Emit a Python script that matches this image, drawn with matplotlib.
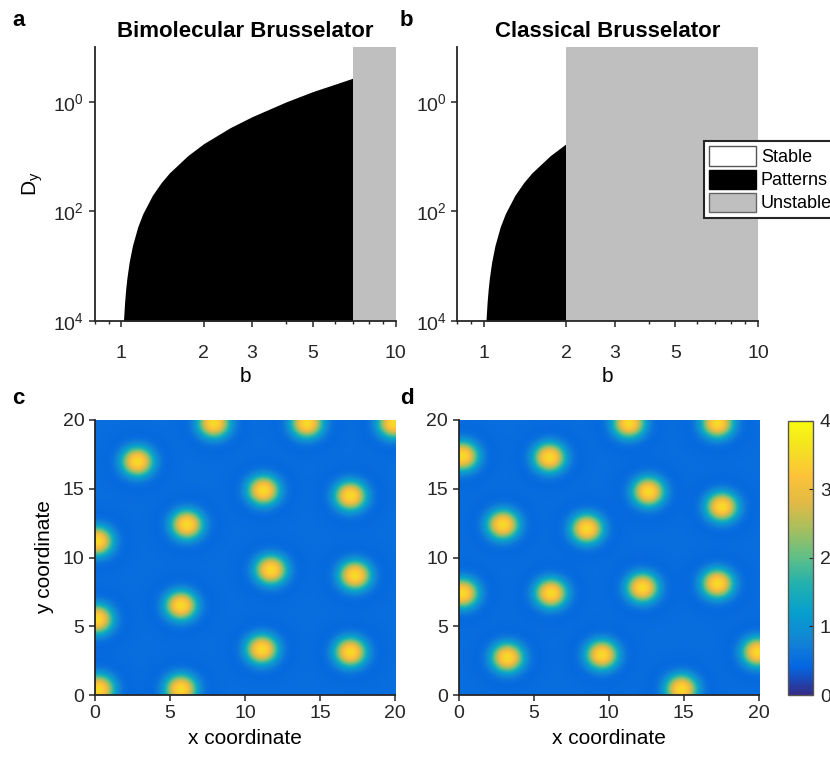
import numpy as np
import matplotlib
matplotlib.use("Agg")
import matplotlib.pyplot as plt
from matplotlib.colors import LinearSegmentedColormap
from matplotlib.patches import Patch
from matplotlib.ticker import LogLocator, NullLocator, FixedLocator, NullFormatter

plt.rcParams['font.family'] = ['Liberation Sans', 'DejaVu Sans']
plt.rcParams['mathtext.fontset'] = 'custom'
plt.rcParams['mathtext.rm'] = 'Liberation Sans'

# Turing boundary (b, Dy)
b_curve = [1.02, 1.03, 1.04, 1.05, 1.07, 1.1, 1.15, 1.2, 1.3, 1.4, 1.5, 1.75,
           2.0, 2.5, 3.0, 4.0, 5.0, 6.0, 7.0]
dy_curve = [10000, 4500, 2550, 1640, 845, 420, 191, 110, 51, 29.8, 19.8, 9.6,
            5.8, 2.96, 1.87, 1.0, 0.65, 0.48, 0.37]
hopf_bimolecular = 7.0
hopf_classical = 2.0

# spot centres (x, y)
spots_c_x = [7.9, 14.1, 19.9, 2.8, 11.2, 17.0, 6.1, 0.1, 11.7, 17.3, 5.7, 0.1, 11.1, 17.0, 0.2, 5.7]
spots_c_y = [19.8, 19.8, 19.8, 17.0, 14.9, 14.5, 12.4, 11.2, 9.1, 8.7, 6.5, 5.5, 3.3, 3.1, 0.4, 0.4]
spots_d_x = [11.3, 17.2, 0.2, 6.0, 12.6, 17.5, 2.9, 8.5, 0.2, 6.1, 12.2, 17.2, 3.2, 9.5, 14.8, 19.9]
spots_d_y = [19.8, 19.8, 17.4, 17.3, 14.8, 13.7, 12.4, 12.1, 7.4, 7.4, 7.8, 8.1, 2.7, 2.9, 0.4, 3.1]
background_level = 0.52
spot_peak = 3.5

parula_colors = [(0.2081, 0.1663, 0.5292), (0.0157, 0.3960, 0.8860), (0.0700, 0.5220, 0.8330),
                 (0.0250, 0.6230, 0.8080), (0.1250, 0.6900, 0.6920), (0.3690, 0.7490, 0.5300),
                 (0.6420, 0.7480, 0.3770), (0.8820, 0.7300, 0.2710), (0.9930, 0.7620, 0.2210),
                 (0.9570, 0.8860, 0.1310), (0.9763, 0.9831, 0.0538)]
parula = LinearSegmentedColormap.from_list('parula', parula_colors)

W, H = 830, 761
fig = plt.figure(figsize=(W / 100, H / 100), dpi=100)


def px_axes(left, top, right, bottom):
    return fig.add_axes([left / W, 1 - bottom / H, (right - left) / W, (bottom - top) / H])


def style(ax):
    for s in ['top', 'right']:
        ax.spines[s].set_visible(False)
    for s in ['left', 'bottom']:
        ax.spines[s].set_linewidth(1.3)
        ax.spines[s].set_color('#262626')
    ax.tick_params(direction='out', length=4, width=1.1, colors='#262626', labelsize=14,
                   labelcolor='#262626')
    ax.tick_params(which='minor', direction='out', length=2.5, width=1.0, colors='#262626')


gray = '#bfbfbf'


def phase_panel(ax, hopf, title):
    b = np.array(b_curve)
    dy = np.array(dy_curve)
    keep = b <= hopf
    ax.fill_between(b[keep], dy[keep], 1e4, color='black', linewidth=0)
    ax.axvspan(hopf, 10, color=gray, linewidth=0)
    ax.set_xscale('log')
    ax.set_yscale('log')
    ax.set_xlim(0.8, 10)
    ax.set_ylim(1e4, 1e-1)
    ax.xaxis.set_major_locator(FixedLocator([1, 2, 3, 5, 10]))
    ax.set_xticklabels(['1', '2', '3', '5', '10'])
    ax.xaxis.set_minor_locator(LogLocator(base=10, subs=np.arange(2, 10) / 10 * 10, numticks=20))
    ax.xaxis.set_minor_formatter(NullFormatter())
    ax.set_yticks([1, 100, 1e4])
    ax.set_yticklabels([r'$\mathregular{10^0}$', r'$\mathregular{10^2}$', r'$\mathregular{10^4}$'])
    ax.yaxis.set_minor_locator(NullLocator())
    style(ax)
    ax.tick_params(axis='x', pad=13)
    ax.set_xlabel('b', fontsize=15, labelpad=4)
    ax.set_title(title, fontsize=16, fontweight='bold', pad=7)


ax_a = px_axes(94.5, 47, 395.5, 321)
phase_panel(ax_a, hopf_bimolecular, 'Bimolecular Brusselator')
ax_a.set_ylabel(r'$\mathregular{D_y}$', fontsize=15, labelpad=6)

ax_b = px_axes(457, 47, 758, 321)
phase_panel(ax_b, hopf_classical, 'Classical Brusselator')

legend_handles = [Patch(facecolor='white', edgecolor='#555555', label='Stable'),
                  Patch(facecolor='black', edgecolor='black', label='Patterns'),
                  Patch(facecolor=gray, edgecolor='#666666', label='Unstable')]
leg = fig.legend(handles=legend_handles, loc='upper left', bbox_to_anchor=(704 / W, 1 - 141 / H),
                 fancybox=False, edgecolor='#262626', framealpha=1, fontsize=13,
                 handlelength=2.6, handleheight=1.25, handletextpad=0.25, labelspacing=0.2,
                 borderpad=0.3, borderaxespad=0)
leg.get_frame().set_linewidth(1.5)

xs = np.linspace(0, 20, 300)
X, Y = np.meshgrid(xs, xs)


def spot_panel(ax, sx, sy):
    field = np.full(X.shape, background_level)
    for cx, cy in zip(sx, sy):
        r = np.hypot(X - cx, Y - cy)
        field += (spot_peak - background_level) * np.exp(-(r / 1.02) ** 2.4)
        field -= 0.06 * np.exp(-((r - 1.9) / 0.7) ** 2)
    im = ax.imshow(field, extent=[0, 20, 0, 20], origin='lower', cmap=parula,
                   vmin=0, vmax=4, aspect='auto', interpolation='bilinear')
    ax.set_xlim(0, 20)
    ax.set_ylim(0, 20)
    ax.set_xticks([0, 5, 10, 15, 20])
    ax.set_yticks([0, 5, 10, 15, 20])
    style(ax)
    ax.set_xlabel('x coordinate', fontsize=15, labelpad=5)
    return im


ax_c = px_axes(95, 420, 395, 695)
spot_panel(ax_c, spots_c_x, spots_c_y)
ax_c.set_ylabel('y coordinate', fontsize=15, labelpad=6)

ax_d = px_axes(458.5, 420, 758.5, 695)
im = spot_panel(ax_d, spots_d_x, spots_d_y)

cax = px_axes(788, 420.5, 813, 695)
cb = fig.colorbar(im, cax=cax, ticks=[0, 1, 2, 3, 4])
cb.outline.set_edgecolor('#555555')
cb.outline.set_linewidth(1.0)
cax.tick_params(direction='in', length=3, width=0.8, colors='#262626', labelsize=14, pad=5)

for letter, x, y in [('a', 12, 20), ('b', 400, 20), ('c', 12, 398), ('d', 400, 398)]:
    fig.text(x / W, 1 - y / H, letter, fontsize=16, fontweight='bold', va='center', ha='left')

fig.savefig('out.png', dpi=100)
